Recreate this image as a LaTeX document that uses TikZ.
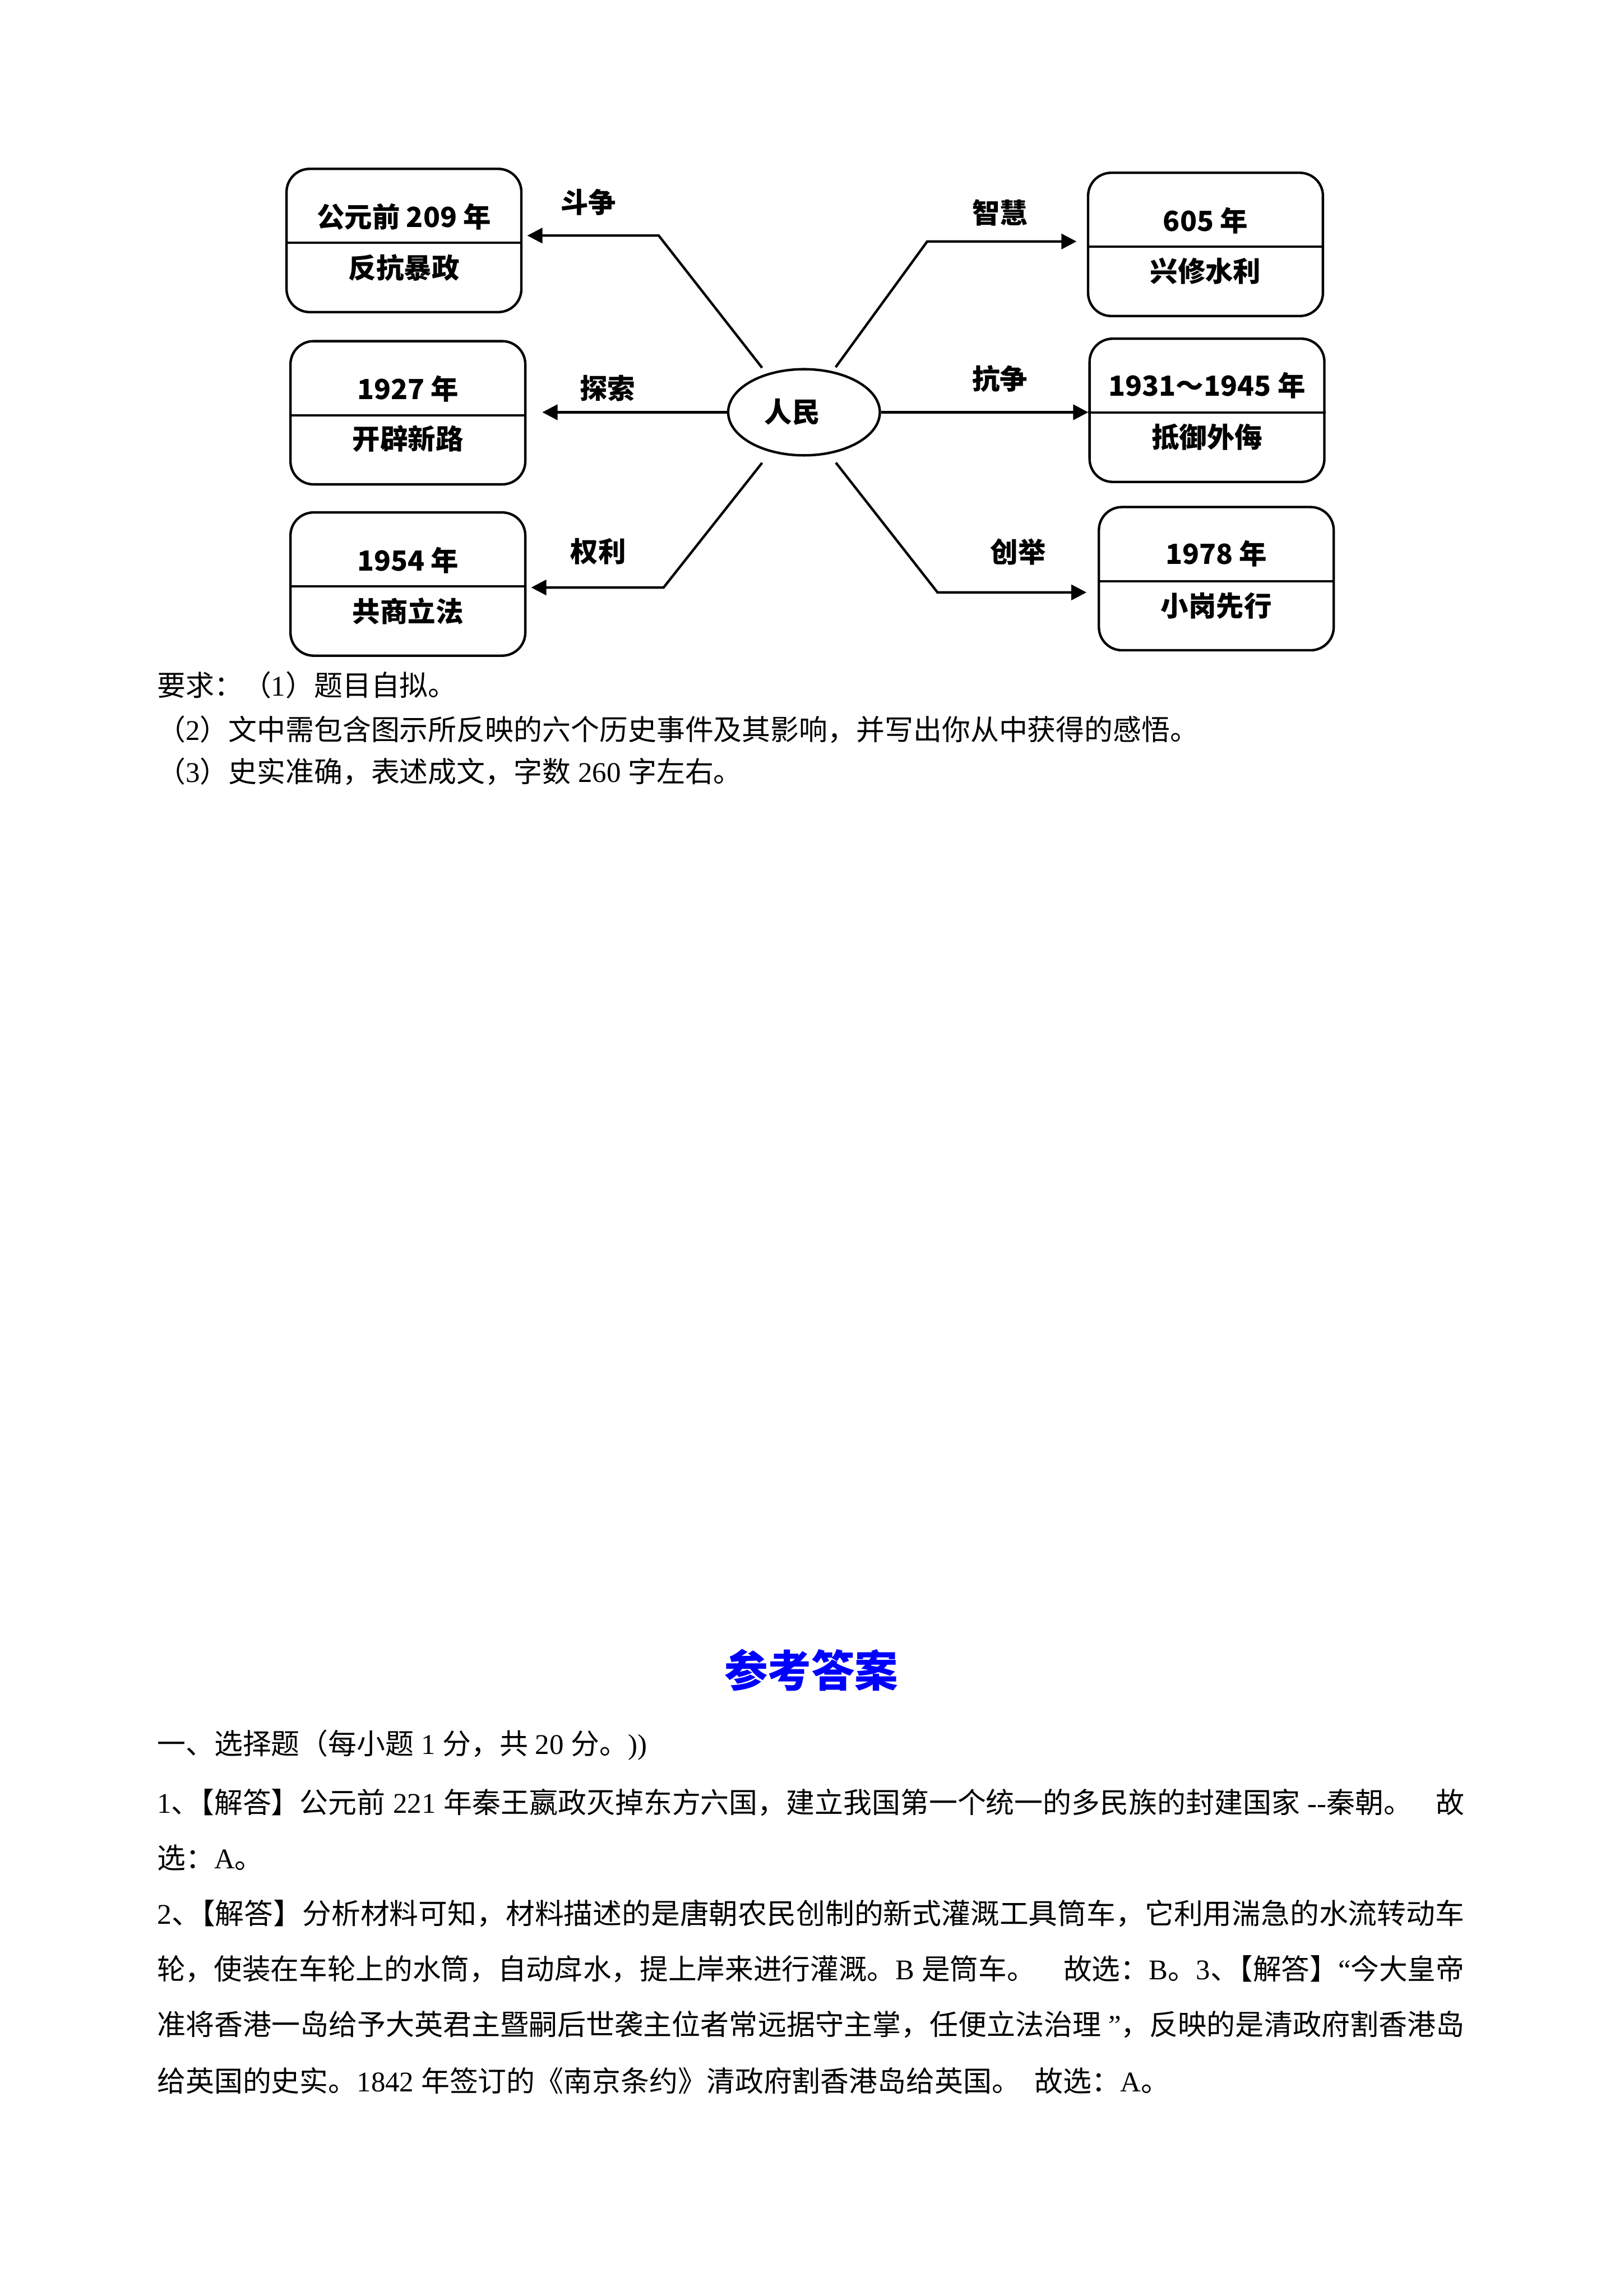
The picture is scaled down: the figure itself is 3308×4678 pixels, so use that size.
\documentclass[tikz,border=0pt]{standalone}
\usepackage{fontspec}
\usepackage{graphicx}
\setmainfont{Noto Sans CJK SC}
\newfontfamily\lat{Liberation Serif}
\usetikzlibrary{arrows.meta,shapes.geometric}
\newcommand{\fitw}[1]{\resizebox{481pt}{\height}{#1}}
\newcommand{\fills}[1]{\makebox[481pt][s]{#1}}
\newcommand{\jieda}{、\kern-0.5em【解答】}
\begin{document}
\begin{tikzpicture}[x=0.0063482cm, y=-0.0063482cm,
 evbox/.style={draw, line width=0.9pt, rounded corners=8.5pt, minimum width=86.4pt, minimum height=52.7pt, inner sep=0pt},
 divline/.style={line width=0.8pt},
 boxtxt/.style={font=\fontsize{10.2pt}{12pt}\selectfont\bfseries, inner sep=0pt},
 conn/.style={line width=0.9pt, -{Triangle[length=5.6pt,width=5.6pt]}},
 bodytxt/.style={anchor=west, inner sep=0pt, font=\fontsize{10.5pt}{12pt}\selectfont}]
\fill[white] (0,0) rectangle (3308,4678);
\useasboundingbox (0,0) rectangle (3308,4678);

% boxes
\node[evbox] (b1) at (823,490) {};
\node[evbox] (b2) at (831,841) {};
\node[evbox] (b3) at (831,1190) {};
\node[evbox] (b4) at (2456,498) {};
\node[evbox] (b5) at (2459,836) {};
\node[evbox] (b6) at (2478,1179) {};
\foreach \b in {b1,b2,b3,b4,b5,b6}{
  \draw[divline] ([yshift=-0.9pt]\b.west) -- ([yshift=-0.9pt]\b.east);
}
\node[boxtxt] (b1a) at (823,442) {公元前 209 年};
\node[boxtxt] (b1b) at (823,545) {反抗暴政};
\node[boxtxt] (b2a) at (831,792) {1927 年};
\node[boxtxt] (b2b) at (831,894) {开辟新路};
\node[boxtxt] (b3a) at (831,1142) {1954 年};
\node[boxtxt] (b3b) at (831,1245) {共商立法};
\node[boxtxt] (b4a) at (2456,449) {605 年};
\node[boxtxt] (b4b) at (2456,552) {兴修水利};
\node[boxtxt] (b5a) at (2459,785) {1931～1945 年};
\node[boxtxt] (b5b) at (2459,890) {抵御外侮};
\node[boxtxt] (b6a) at (2478,1128) {1978 年};
\node[boxtxt] (b6b) at (2478,1234) {小岗先行};

% centre
\node[draw, ellipse, line width=0.9pt, minimum width=55.8pt, minimum height=31.7pt, inner sep=0pt] (p) at (1638,840) {};
\node[boxtxt] (pt) at (1614,839) {人民};

% connectors
\coordinate (k1) at (1342,480);
\coordinate (k3) at (1352,1197);
\coordinate (k4) at (1889,492);
\coordinate (k6) at (1910,1207);
\draw[conn, shorten <=2.7pt, shorten >=1.7pt] (p.134) -- (k1) -- (k1 -| b1.east);
\draw[conn, shorten >=5.8pt] (p.west) -- (p.west -| b2.east);
\draw[conn, shorten <=5pt, shorten >=1.7pt] (p.230) -- (k3) -- (k3 -| b3.east);
\draw[conn, shorten <=1.8pt, shorten >=3.8pt] (p.55) -- (k4) -- (k4 -| b4.west);
\draw[conn] (p.east) -- (p.east -| b5.west);
\draw[conn, shorten <=4pt, shorten >=4.1pt] (p.301) -- (k6) -- (k6 -| b6.west);

% connector labels
\node[boxtxt] (l1) at (1199,412) {斗争};
\node[boxtxt] (l2) at (1238,791) {探索};
\node[boxtxt] (l3) at (1219,1124) {权利};
\node[boxtxt] (l4) at (2037,433) {智慧};
\node[boxtxt] (l5) at (2037,772) {抗争};
\node[boxtxt] (l6) at (2074,1124) {创举};

% requirements
\node[bodytxt] (r1) at (319,1396) {要求：（{\lat 1}）题目自拟。};
\node[bodytxt] (r2) at (319,1486) {（{\lat 2}）文中需包含图示所反映的六个历史事件及其影响，并写出你从中获得的感悟。};
\node[bodytxt] (r3) at (319,1572) {（{\lat 3}）史实准确，表述成文，字数{\lat\ 260 }字左右。};

% answers
\node[font=\fontsize{16pt}{18pt}\selectfont\bfseries, text={rgb,255:red,0;green,0;blue,255}, inner sep=0pt] (title) at (1653,3403) {参考答案};
\node[bodytxt] (a1) at (319,3556) {一、选择题（每小题{\lat\ 1 }分，共{\lat\ 20 }分。{\lat ))}};
\node[bodytxt] (a2) at (319,3672) {\fills{{\lat 1}\jieda 公元前{\lat\ 221 }年秦王嬴政灭掉东方六国，建立我国第一个统一的多民族的封建国家{\lat\ -{}-}秦朝。{\lat\ \ \ }故}};
\node[bodytxt] (a3) at (319,3785) {选：{\lat A}。};
\node[bodytxt] (a4) at (319,3899) {\fitw{{\lat 2}\jieda 分析材料可知，材料描述的是唐朝农民创制的新式灌溉工具筒车，它利用湍急的水流转动车}};
\node[bodytxt] (a5) at (319,4012) {\fitw{轮，使装在车轮上的水筒，自动戽水，提上岸来进行灌溉。{\lat B }是筒车。{\lat\ \ \ \ }故选：{\lat B}。{\lat 3}\jieda{\lat “}今大皇帝}};
\node[bodytxt] (a6) at (319,4125) {\fitw{准将香港一岛给予大英君主暨嗣后世袭主位者常远据守主掌，任便立法治理{\lat\ ”}，反映的是清政府割香港岛}};
\node[bodytxt] (a7) at (319,4239) {给英国的史实。{\lat 1842 }年签订的《南京条约》清政府割香港岛给英国。{\lat\ \ }故选：{\lat A}。};
\end{tikzpicture}
\end{document}
